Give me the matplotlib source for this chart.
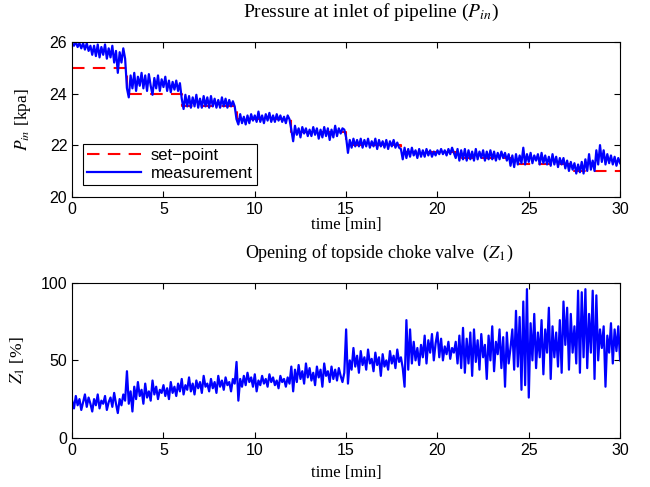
import numpy as np
import matplotlib
matplotlib.use('Agg')
import matplotlib.pyplot as plt

plt.rcParams['font.family'] = ['Liberation Sans', 'DejaVu Sans']
plt.rcParams['mathtext.fontset'] = 'stix'

# time axis, one sample every 0.1 min
t_step = 0.1
t_end = 30

# set-point steps (start time, value)
sp_times = [0, 3, 6, 9, 12, 15, 18, 21, 24, 27.5, 30]
sp_values = [25, 24, 23.5, 23, 22.5, 22, 21.75, 21.5, 21.25, 21, 21]

p_in = [
    25.95, 25.85, 26.0, 25.8, 25.95, 25.75, 25.95, 25.7, 25.95, 25.65,
    25.85, 25.5, 25.85, 25.45, 25.9, 25.4, 25.8, 25.5, 25.9, 25.35,
    25.75, 25.4, 25.85, 25.2, 25.65, 24.8, 25.6, 25.2, 25.75, 25.35,
    24.2, 23.85, 24.7, 24.2, 24.8, 24.1, 24.65, 24.3, 24.8, 24.2,
    24.7, 24.1, 24.75, 24.3, 23.95, 24.6, 24.2, 24.7, 24.1, 24.55,
    24.25, 24.65, 24.1, 24.5, 24.05, 24.45, 24.15, 24.5, 24.1, 24.4,
    23.8, 23.4, 23.95, 23.5, 23.9, 23.45, 23.85, 23.5, 23.95, 23.45,
    23.8, 23.45, 23.9, 23.5, 23.85, 23.45, 23.9, 23.5, 23.8, 23.45,
    23.75, 23.45, 23.85, 23.5, 23.8, 23.45, 23.75, 23.5, 23.7, 23.5,
    23.0, 22.8, 23.2, 22.85, 23.1, 22.8, 23.15, 22.85, 23.2, 22.95,
    23.15, 22.9, 23.3, 22.9, 23.15, 22.85, 23.2, 22.95, 23.25, 22.9,
    23.15, 22.9, 23.2, 22.95, 23.15, 22.9, 23.1, 22.85, 23.15, 23.0,
    22.6, 22.15, 22.75, 22.4, 22.65, 22.3, 22.7, 22.45, 22.65, 22.35,
    22.6, 22.35, 22.7, 22.4, 22.65, 22.25, 22.6, 22.3, 22.7, 22.35,
    22.65, 22.2, 22.6, 22.3, 22.75, 22.35, 22.65, 22.45, 22.65, 22.6,
    22.3, 21.7, 22.2, 21.9, 22.25, 21.95, 22.2, 21.95, 22.25, 21.9,
    22.2, 21.95, 22.25, 21.9, 22.15, 21.95, 22.25, 21.85, 22.2, 21.95,
    22.15, 21.9, 22.2, 21.85, 22.15, 21.95, 22.2, 21.9, 22.1, 21.9,
    21.85, 21.45, 21.9, 21.5, 21.85, 21.55, 21.9, 21.6, 21.8, 21.5,
    21.85, 21.55, 21.8, 21.55, 21.85, 21.6, 21.8, 21.55, 21.75, 21.6,
    21.8, 21.65, 21.85, 21.65, 21.8, 21.6, 21.85, 21.65, 21.9, 21.7,
    21.5, 21.85, 21.4, 21.8, 21.45, 21.85, 21.4, 21.8, 21.45, 21.75,
    21.4, 21.85, 21.45, 21.75, 21.5, 21.8, 21.4, 21.75, 21.45, 21.8,
    21.45, 21.75, 21.4, 21.7, 21.45, 21.75, 21.5, 21.7, 21.4, 21.65,
    21.2, 21.6, 21.15, 21.65, 21.25, 21.6, 21.3, 21.9, 21.25, 21.65,
    21.35, 21.7, 21.3, 21.6, 21.4, 21.65, 21.25, 21.7, 21.3, 21.6,
    21.25, 21.55, 21.2, 21.65, 21.25, 21.55, 21.15, 21.5, 21.25, 21.5,
    21.1, 21.4, 21.0, 21.35, 21.05, 21.3, 20.9, 21.25, 20.95, 21.35,
    20.9, 21.45, 21.0, 21.65, 21.05, 21.4, 21.0, 21.8, 21.25, 22.0,
    21.35, 21.8, 21.25, 21.65, 21.3, 21.6, 21.25, 21.55, 21.2, 21.5,
    21.3,
]

# choke valve opening [%]
z1 = [
    24, 19, 27, 21, 25, 18, 23, 28, 20, 26,
    22, 17, 25, 21, 28, 19, 24, 22, 27, 18,
    23, 26, 20, 29, 22, 16, 25, 21, 28, 24,
    43, 22, 30, 17, 33, 25, 36, 27, 31, 22,
    35, 26, 30, 24, 37, 28, 33, 25, 31, 29,
    34, 27, 32, 25, 36, 29, 33, 27, 35, 30,
    38, 28, 34, 31, 39, 30, 35, 28, 37, 32,
    36, 29, 40, 33, 35, 30, 38, 32, 36, 29,
    40, 33, 37, 31, 39, 34, 36, 30, 38, 35,
    49, 24, 38, 33, 40, 34, 42, 36, 39, 33,
    41, 30, 37, 34, 40, 35, 38, 33, 41, 36,
    39, 34, 37, 32, 40, 36, 38, 33, 39, 35,
    46, 30, 44, 36, 47, 38, 43, 35, 48, 39,
    45, 37, 42, 34, 46, 39, 44, 33, 48, 40,
    43, 36, 46, 38, 44, 37, 45, 40, 36, 42,
    70, 35, 50, 44, 58, 46, 53, 42, 56, 47,
    52, 44, 57, 48, 51, 43, 55, 47, 52, 40,
    54, 46, 50, 44, 56, 48, 53, 45, 57, 49,
    52, 45, 33, 76, 44, 70, 48, 62, 50, 58,
    47, 60, 52, 66, 48, 63, 55, 67, 50, 61,
    68, 52, 64, 50, 59, 54, 62, 51, 58, 55,
    62, 48, 66, 45, 71, 42, 64, 48, 68, 40,
    70, 49, 63, 44, 67, 52, 60, 38, 66, 50,
    72, 43, 62, 54, 70, 45, 65, 33, 68, 48,
    58, 70, 44, 82, 46, 78, 31, 88, 34, 96,
    26, 74, 50, 80, 45, 68, 52, 76, 41, 70,
    55, 84, 38, 72, 52, 68, 46, 76, 42, 88,
    60, 84, 44, 80, 55, 72, 48, 95, 42, 94,
    52, 96, 45, 80, 55, 95, 38, 92, 50, 70,
    58, 72, 33, 66, 55, 74, 48, 70, 56, 72,
    50,
]

t = np.arange(len(p_in)) * t_step

fig = plt.figure(figsize=(6.5, 4.87), dpi=100)
ax1 = fig.add_axes([0.111, 0.596, 0.843, 0.318])
ax2 = fig.add_axes([0.111, 0.101, 0.843, 0.318])

serif = 'Liberation Serif'

ax1.step(sp_times, sp_values, where='post', color='#ff0000', lw=1.5,
         ls=(0, (6, 4)), label='set\u2212point')
ax1.plot(t, p_in, color='#0000ff', lw=1.6, label='measurement')
ax1.set_xlim(0, t_end)
ax1.set_ylim(20, 26)
ax1.set_yticks([20, 22, 24, 26])
ax1.set_title('Pressure at inlet of pipeline ($P_{in}$)', family=serif,
              fontsize=14, pad=18, x=0.545)
ax1.set_xlabel('time [min]', family=serif, fontsize=12, labelpad=0)
ax1.set_ylabel('$P_{in}$ [kpa]', family=serif, fontsize=12.5, labelpad=12)
leg = ax1.legend(loc='lower left', fontsize=12, handlelength=3.2,
                 fancybox=False, edgecolor='black', framealpha=1,
                 borderpad=0.25, labelspacing=0.2, handletextpad=0.6,
                 bbox_to_anchor=(0.005, 0.02))
leg.get_frame().set_linewidth(0.8)

ax2.plot(t, z1, color='#0000ff', lw=1.6)
ax2.set_xlim(0, t_end)
ax2.set_ylim(0, 100)
ax2.set_yticks([0, 50, 100])
ax2.set_title('Opening of topside choke valve  ($Z_1$)', family=serif,
              fontsize=13, pad=18, x=0.56)
ax2.set_xlabel('time [min]', family=serif, fontsize=12, labelpad=5)
ax2.set_ylabel('$Z_1$ [%]', family=serif, fontsize=12.5, labelpad=10)

for ax in (ax1, ax2):
    ax.set_xticks(np.arange(0, 31, 5))
    ax.tick_params(direction='in', top=True, right=True, labelsize=11.5,
                   length=4, width=0.8)
    for s in ax.spines.values():
        s.set_linewidth(0.8)

fig.savefig('out.png', dpi=100)
